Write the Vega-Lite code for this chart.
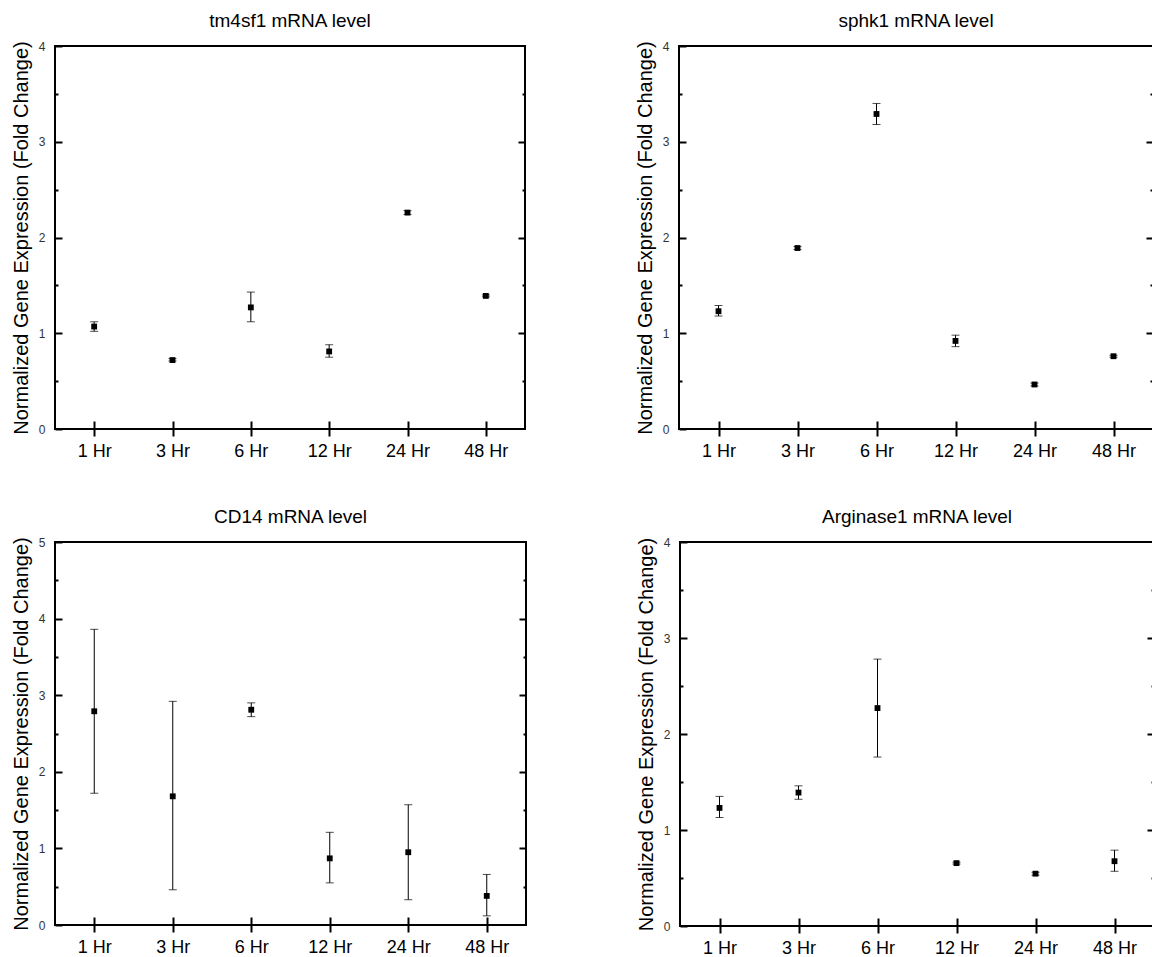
{
  "$schema": "https://vega.github.io/schema/vega-lite/v6.json",
  "background": "white",
  "padding": {"left": 10, "top": 11, "right": 0, "bottom": 0},
  "data": {"values": [
    {"gene": "tm4sf1", "time": "1 Hr", "mean": 1.07, "lo": 1.02, "hi": 1.12},
    {"gene": "tm4sf1", "time": "3 Hr", "mean": 0.72, "lo": 0.71, "hi": 0.735},
    {"gene": "tm4sf1", "time": "6 Hr", "mean": 1.27, "lo": 1.12, "hi": 1.43},
    {"gene": "tm4sf1", "time": "12 Hr", "mean": 0.81, "lo": 0.75, "hi": 0.88},
    {"gene": "tm4sf1", "time": "24 Hr", "mean": 2.26, "lo": 2.24, "hi": 2.28},
    {"gene": "tm4sf1", "time": "48 Hr", "mean": 1.39, "lo": 1.38, "hi": 1.40},
    {"gene": "sphk1", "time": "1 Hr", "mean": 1.23, "lo": 1.18, "hi": 1.29},
    {"gene": "sphk1", "time": "3 Hr", "mean": 1.89, "lo": 1.875, "hi": 1.905},
    {"gene": "sphk1", "time": "6 Hr", "mean": 3.29, "lo": 3.18, "hi": 3.40},
    {"gene": "sphk1", "time": "12 Hr", "mean": 0.92, "lo": 0.86, "hi": 0.98},
    {"gene": "sphk1", "time": "24 Hr", "mean": 0.465, "lo": 0.45, "hi": 0.48},
    {"gene": "sphk1", "time": "48 Hr", "mean": 0.76, "lo": 0.75, "hi": 0.77},
    {"gene": "CD14", "time": "1 Hr", "mean": 2.79, "lo": 1.72, "hi": 3.86},
    {"gene": "CD14", "time": "3 Hr", "mean": 1.68, "lo": 0.46, "hi": 2.92},
    {"gene": "CD14", "time": "6 Hr", "mean": 2.81, "lo": 2.72, "hi": 2.90},
    {"gene": "CD14", "time": "12 Hr", "mean": 0.87, "lo": 0.55, "hi": 1.21},
    {"gene": "CD14", "time": "24 Hr", "mean": 0.95, "lo": 0.33, "hi": 1.57},
    {"gene": "CD14", "time": "48 Hr", "mean": 0.38, "lo": 0.12, "hi": 0.66},
    {"gene": "Arginase1", "time": "1 Hr", "mean": 1.23, "lo": 1.13, "hi": 1.35},
    {"gene": "Arginase1", "time": "3 Hr", "mean": 1.39, "lo": 1.32, "hi": 1.46},
    {"gene": "Arginase1", "time": "6 Hr", "mean": 2.27, "lo": 1.76, "hi": 2.78},
    {"gene": "Arginase1", "time": "12 Hr", "mean": 0.655, "lo": 0.645, "hi": 0.665},
    {"gene": "Arginase1", "time": "24 Hr", "mean": 0.545, "lo": 0.53, "hi": 0.56},
    {"gene": "Arginase1", "time": "48 Hr", "mean": 0.675, "lo": 0.57, "hi": 0.79}
  ]},
  "spacing": 46,
  "vconcat": [
    {
      "spacing": 107,
      "hconcat": [
        {
          "title": "tm4sf1 mRNA level",
          "width": 470, "height": 383,
          "transform": [{"filter": "datum.gene === 'tm4sf1'"}],
          "layer": [
            {"mark": {"type": "rule", "color": "black", "strokeWidth": 1},
             "encoding": {
               "x": {"field": "time", "type": "nominal", "sort": ["1 Hr","3 Hr","6 Hr","12 Hr","24 Hr","48 Hr"], "scale": {"type": "point", "padding": 0.5},
                     "axis": {"orient": "bottom", "title": null, "labelAngle": 0, "labelFontSize": 18, "labelColor": "black", "tickSize": 7, "tickWidth": 2, "labelPadding": 6}},
               "y": {"field": "lo", "type": "quantitative", "scale": {"domain": [0, 4], "nice": false},
                     "axis": {"orient": "left", "title": "Normalized Gene Expression (Fold Change)", "values": [0,1,2,3,4], "format": "d", "tickSize": -7, "tickWidth": 2, "labelPadding": 17, "labelFontSize": 12, "labelColor": "#333", "titleFontSize": 20, "titleFontWeight": "normal", "titleColor": "black", "titlePadding": 7}},
               "y2": {"field": "hi"}}},
            {"mark": {"type": "tick", "color": "black", "thickness": 1, "size": 8},
             "encoding": {
               "x": {"field": "time", "type": "nominal", "sort": ["1 Hr","3 Hr","6 Hr","12 Hr","24 Hr","48 Hr"], "scale": {"type": "point", "padding": 0.5},
                     "axis": {"orient": "bottom", "title": null, "labels": false, "tickSize": -8, "tickWidth": 2}},
               "y": {"field": "lo", "type": "quantitative", "axis": {"orient": "left", "title": null, "labels": false, "values": [0.5,1.5,2.5,3.5], "tickSize": -3, "tickWidth": 2}}}},
            {"mark": {"type": "tick", "color": "black", "thickness": 1, "size": 8},
             "encoding": {
               "x": {"field": "time", "type": "nominal", "sort": ["1 Hr","3 Hr","6 Hr","12 Hr","24 Hr","48 Hr"], "scale": {"type": "point", "padding": 0.5}, "axis": null},
               "y": {"field": "hi", "type": "quantitative", "axis": {"orient": "right", "title": null, "labels": false, "values": [1,2,3], "tickSize": -7, "tickWidth": 2}}}},
            {"mark": {"type": "square", "color": "black", "filled": true, "opacity": 1, "size": 34},
             "encoding": {
               "x": {"field": "time", "type": "nominal", "sort": ["1 Hr","3 Hr","6 Hr","12 Hr","24 Hr","48 Hr"], "scale": {"type": "point", "padding": 0.5}, "axis": null},
               "y": {"field": "mean", "type": "quantitative", "axis": {"orient": "right", "title": null, "labels": false, "values": [0.5,1.5,2.5,3.5], "tickSize": -3, "tickWidth": 2}}}}
          ],
          "resolve": {"axis": {"x": "independent", "y": "independent"}}
        },
        {
          "title": "sphk1 mRNA level",
          "width": 474, "height": 383,
          "transform": [{"filter": "datum.gene === 'sphk1'"}],
          "layer": [
            {"mark": {"type": "rule", "color": "black", "strokeWidth": 1},
             "encoding": {
               "x": {"field": "time", "type": "nominal", "sort": ["1 Hr","3 Hr","6 Hr","12 Hr","24 Hr","48 Hr"], "scale": {"type": "point", "padding": 0.5},
                     "axis": {"orient": "bottom", "title": null, "labelAngle": 0, "labelFontSize": 18, "labelColor": "black", "tickSize": 7, "tickWidth": 2, "labelPadding": 6}},
               "y": {"field": "lo", "type": "quantitative", "scale": {"domain": [0, 4], "nice": false},
                     "axis": {"orient": "left", "title": "Normalized Gene Expression (Fold Change)", "values": [0,1,2,3,4], "format": "d", "tickSize": -7, "tickWidth": 2, "labelPadding": 17, "labelFontSize": 12, "labelColor": "#333", "titleFontSize": 20, "titleFontWeight": "normal", "titleColor": "black", "titlePadding": 7}},
               "y2": {"field": "hi"}}},
            {"mark": {"type": "tick", "color": "black", "thickness": 1, "size": 8},
             "encoding": {
               "x": {"field": "time", "type": "nominal", "sort": ["1 Hr","3 Hr","6 Hr","12 Hr","24 Hr","48 Hr"], "scale": {"type": "point", "padding": 0.5},
                     "axis": {"orient": "bottom", "title": null, "labels": false, "tickSize": -8, "tickWidth": 2}},
               "y": {"field": "lo", "type": "quantitative", "axis": {"orient": "left", "title": null, "labels": false, "values": [0.5,1.5,2.5,3.5], "tickSize": -3, "tickWidth": 2}}}},
            {"mark": {"type": "tick", "color": "black", "thickness": 1, "size": 8},
             "encoding": {
               "x": {"field": "time", "type": "nominal", "sort": ["1 Hr","3 Hr","6 Hr","12 Hr","24 Hr","48 Hr"], "scale": {"type": "point", "padding": 0.5}, "axis": null},
               "y": {"field": "hi", "type": "quantitative", "axis": {"orient": "right", "title": null, "labels": false, "values": [1,2,3], "tickSize": -7, "tickWidth": 2}}}},
            {"mark": {"type": "square", "color": "black", "filled": true, "opacity": 1, "size": 34},
             "encoding": {
               "x": {"field": "time", "type": "nominal", "sort": ["1 Hr","3 Hr","6 Hr","12 Hr","24 Hr","48 Hr"], "scale": {"type": "point", "padding": 0.5}, "axis": null},
               "y": {"field": "mean", "type": "quantitative", "axis": {"orient": "right", "title": null, "labels": false, "values": [0.5,1.5,2.5,3.5], "tickSize": -3, "tickWidth": 2}}}}
          ],
          "resolve": {"axis": {"x": "independent", "y": "independent"}}
        }
      ]
    },
    {
      "spacing": 107,
      "hconcat": [
        {
          "title": "CD14 mRNA level",
          "width": 471, "height": 383,
          "transform": [{"filter": "datum.gene === 'CD14'"}],
          "layer": [
            {"mark": {"type": "rule", "color": "black", "strokeWidth": 1},
             "encoding": {
               "x": {"field": "time", "type": "nominal", "sort": ["1 Hr","3 Hr","6 Hr","12 Hr","24 Hr","48 Hr"], "scale": {"type": "point", "padding": 0.5},
                     "axis": {"orient": "bottom", "title": null, "labelAngle": 0, "labelFontSize": 18, "labelColor": "black", "tickSize": 7, "tickWidth": 2, "labelPadding": 6}},
               "y": {"field": "lo", "type": "quantitative", "scale": {"domain": [0, 5], "nice": false},
                     "axis": {"orient": "left", "title": "Normalized Gene Expression (Fold Change)", "values": [0,1,2,3,4,5], "format": "d", "tickSize": -7, "tickWidth": 2, "labelPadding": 17, "labelFontSize": 12, "labelColor": "#333", "titleFontSize": 20, "titleFontWeight": "normal", "titleColor": "black", "titlePadding": 7}},
               "y2": {"field": "hi"}}},
            {"mark": {"type": "tick", "color": "black", "thickness": 1, "size": 8},
             "encoding": {
               "x": {"field": "time", "type": "nominal", "sort": ["1 Hr","3 Hr","6 Hr","12 Hr","24 Hr","48 Hr"], "scale": {"type": "point", "padding": 0.5},
                     "axis": {"orient": "bottom", "title": null, "labels": false, "tickSize": -8, "tickWidth": 2}},
               "y": {"field": "lo", "type": "quantitative", "axis": {"orient": "left", "title": null, "labels": false, "values": [0.5,1.5,2.5,3.5,4.5], "tickSize": -3, "tickWidth": 2}}}},
            {"mark": {"type": "tick", "color": "black", "thickness": 1, "size": 8},
             "encoding": {
               "x": {"field": "time", "type": "nominal", "sort": ["1 Hr","3 Hr","6 Hr","12 Hr","24 Hr","48 Hr"], "scale": {"type": "point", "padding": 0.5}, "axis": null},
               "y": {"field": "hi", "type": "quantitative", "axis": {"orient": "right", "title": null, "labels": false, "values": [1,2,3,4], "tickSize": -7, "tickWidth": 2}}}},
            {"mark": {"type": "square", "color": "black", "filled": true, "opacity": 1, "size": 34},
             "encoding": {
               "x": {"field": "time", "type": "nominal", "sort": ["1 Hr","3 Hr","6 Hr","12 Hr","24 Hr","48 Hr"], "scale": {"type": "point", "padding": 0.5}, "axis": null},
               "y": {"field": "mean", "type": "quantitative", "axis": {"orient": "right", "title": null, "labels": false, "values": [0.5,1.5,2.5,3.5,4.5], "tickSize": -3, "tickWidth": 2}}}}
          ],
          "resolve": {"axis": {"x": "independent", "y": "independent"}}
        },
        {
          "title": "Arginase1 mRNA level",
          "width": 474, "height": 384,
          "transform": [{"filter": "datum.gene === 'Arginase1'"}],
          "layer": [
            {"mark": {"type": "rule", "color": "black", "strokeWidth": 1},
             "encoding": {
               "x": {"field": "time", "type": "nominal", "sort": ["1 Hr","3 Hr","6 Hr","12 Hr","24 Hr","48 Hr"], "scale": {"type": "point", "padding": 0.5},
                     "axis": {"orient": "bottom", "title": null, "labelAngle": 0, "labelFontSize": 18, "labelColor": "black", "tickSize": 7, "tickWidth": 2, "labelPadding": 6}},
               "y": {"field": "lo", "type": "quantitative", "scale": {"domain": [0, 4], "nice": false},
                     "axis": {"orient": "left", "title": "Normalized Gene Expression (Fold Change)", "values": [0,1,2,3,4], "format": "d", "tickSize": -7, "tickWidth": 2, "labelPadding": 17, "labelFontSize": 12, "labelColor": "#333", "titleFontSize": 20, "titleFontWeight": "normal", "titleColor": "black", "titlePadding": 7}},
               "y2": {"field": "hi"}}},
            {"mark": {"type": "tick", "color": "black", "thickness": 1, "size": 8},
             "encoding": {
               "x": {"field": "time", "type": "nominal", "sort": ["1 Hr","3 Hr","6 Hr","12 Hr","24 Hr","48 Hr"], "scale": {"type": "point", "padding": 0.5},
                     "axis": {"orient": "bottom", "title": null, "labels": false, "tickSize": -8, "tickWidth": 2}},
               "y": {"field": "lo", "type": "quantitative", "axis": {"orient": "left", "title": null, "labels": false, "values": [0.5,1.5,2.5,3.5], "tickSize": -3, "tickWidth": 2}}}},
            {"mark": {"type": "tick", "color": "black", "thickness": 1, "size": 8},
             "encoding": {
               "x": {"field": "time", "type": "nominal", "sort": ["1 Hr","3 Hr","6 Hr","12 Hr","24 Hr","48 Hr"], "scale": {"type": "point", "padding": 0.5}, "axis": null},
               "y": {"field": "hi", "type": "quantitative", "axis": {"orient": "right", "title": null, "labels": false, "values": [1,2,3], "tickSize": -7, "tickWidth": 2}}}},
            {"mark": {"type": "square", "color": "black", "filled": true, "opacity": 1, "size": 34},
             "encoding": {
               "x": {"field": "time", "type": "nominal", "sort": ["1 Hr","3 Hr","6 Hr","12 Hr","24 Hr","48 Hr"], "scale": {"type": "point", "padding": 0.5}, "axis": null},
               "y": {"field": "mean", "type": "quantitative", "axis": {"orient": "right", "title": null, "labels": false, "values": [0.5,1.5,2.5,3.5], "tickSize": -3, "tickWidth": 2}}}}
          ],
          "resolve": {"axis": {"x": "independent", "y": "independent"}}
        }
      ]
    }
  ],
  "config": {
    "font": "Liberation Sans",
    "view": {"stroke": "black", "strokeWidth": 2},
    "axis": {"grid": false, "domain": false, "tickColor": "black", "labelFont": "Liberation Sans", "titleFont": "Liberation Sans"},
    "title": {"font": "Liberation Sans", "fontSize": 19, "fontWeight": "normal", "color": "black", "offset": 9}
  }
}
